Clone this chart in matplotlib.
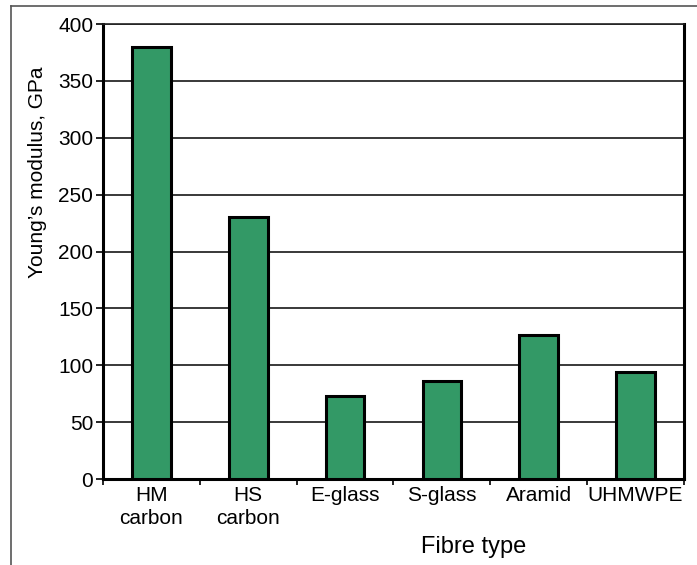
import matplotlib.pyplot as plt
from matplotlib.lines import Line2D
import numpy as np

plt.rcParams['font.family'] = ['Liberation Sans', 'DejaVu Sans']

fibres = ['HM\ncarbon', 'HS\ncarbon', 'E-glass', 'S-glass', 'Aramid', 'UHMWPE']
modulus = [380, 230, 73, 86, 127, 94]
yticks = [0, 50, 100, 150, 200, 250, 300, 350, 400]

fig = plt.figure(figsize=(6.97, 5.65), dpi=100)
ax = fig.add_axes([0.1478, 0.1522, 0.8335, 0.8053])

x = np.arange(len(fibres))
ax.bar(x, modulus, width=0.4, color='#339966', edgecolor='black',
       linewidth=2.2, zorder=3)

ax.set_xlim(-0.5, len(fibres) - 0.5)
ax.set_ylim(0, 400)
ax.set_yticks(yticks)
ax.yaxis.grid(True, color='#2a2a2a', linewidth=1.3, zorder=0)

ax.set_xticks(x)
ax.set_xticklabels(fibres, linespacing=1.25)
ax.set_xticks(np.arange(len(fibres) + 1) - 0.5, minor=True)
ax.tick_params(axis='x', which='major', length=0, pad=5, labelsize=15)
ax.tick_params(axis='x', which='minor', length=4, width=1.2)
ax.tick_params(axis='y', length=5, width=1.2, pad=2, labelsize=15)

for side in ['left', 'bottom', 'right']:
    ax.spines[side].set_linewidth(2.2)
ax.spines['top'].set_linewidth(1.2)
ax.spines['top'].set_color('#222222')

fig.text(0.679, 0.032, 'Fibre type', fontsize=17, ha='center', va='center')
fig.text(0.054, 0.695, 'Young\u2019s modulus, GPa', fontsize=15,
         rotation=90, ha='center', va='center')

# frame around the figure (only top and left edges visible)
fig.add_artist(Line2D([11 / 697, 11 / 697], [0, 1 - 6 / 565],
                      color='#555555', linewidth=1.2))
fig.add_artist(Line2D([11 / 697, 1], [1 - 6 / 565, 1 - 6 / 565],
                      color='#555555', linewidth=1.2))

fig.savefig('out.png', dpi=100)
